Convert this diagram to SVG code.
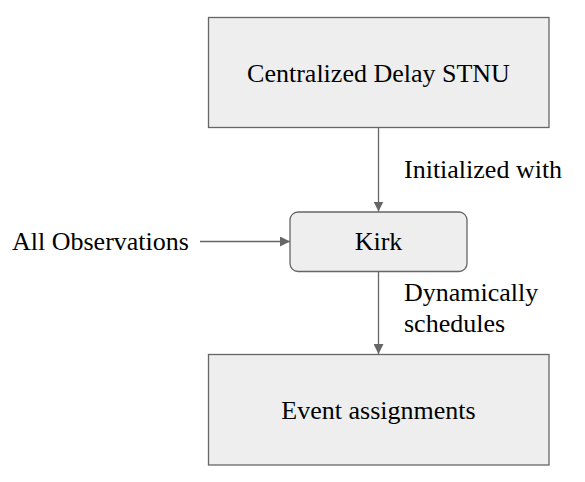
<svg xmlns="http://www.w3.org/2000/svg" width="585" height="482" viewBox="0 0 585 482">
<defs>
<marker id="ah" viewBox="0 0 10 10" refX="10" refY="5" markerWidth="10" markerHeight="10" markerUnits="userSpaceOnUse" orient="auto">
<path d="M0,0 L10,5 L0,10 z" fill="#666666"/>
</marker>
</defs>
<g id="connectors" stroke="#666666" stroke-width="1.3" fill="none">
<line x1="378.5" y1="127.5" x2="378.5" y2="211.5" marker-end="url(#ah)"/>
<line x1="200" y1="241.5" x2="290" y2="241.5" marker-end="url(#ah)"/>
<line x1="378.5" y1="271.5" x2="378.5" y2="354" marker-end="url(#ah)"/>
</g>
<g id="edge-labels" font-family="Liberation Serif" font-size="26">
<text x="404" y="178">Initialized with</text>
<text x="404" y="301">Dynamically</text>
<text x="404" y="332">schedules</text>
</g>
<g id="stnu">
<rect x="208.5" y="17.5" width="340.5" height="110" fill="#eeeeee" stroke="#666666" stroke-width="1.3"/>
<text x="378.5" y="82" font-family="Liberation Serif" font-size="26" text-anchor="middle">Centralized Delay STNU</text>
</g>
<g id="kirk">
<rect x="290" y="212" width="177" height="59.5" rx="8" fill="#eeeeee" stroke="#666666" stroke-width="1.3"/>
<text x="378.5" y="250" font-family="Liberation Serif" font-size="26" text-anchor="middle">Kirk</text>
</g>
<g id="observations">
<text x="12" y="250" font-family="Liberation Serif" font-size="26">All Observations</text>
</g>
<g id="events">
<rect x="208.5" y="354.5" width="340.5" height="110.5" fill="#eeeeee" stroke="#666666" stroke-width="1.3"/>
<text x="378.5" y="419" font-family="Liberation Serif" font-size="26" text-anchor="middle">Event assignments</text>
</g>
</svg>
